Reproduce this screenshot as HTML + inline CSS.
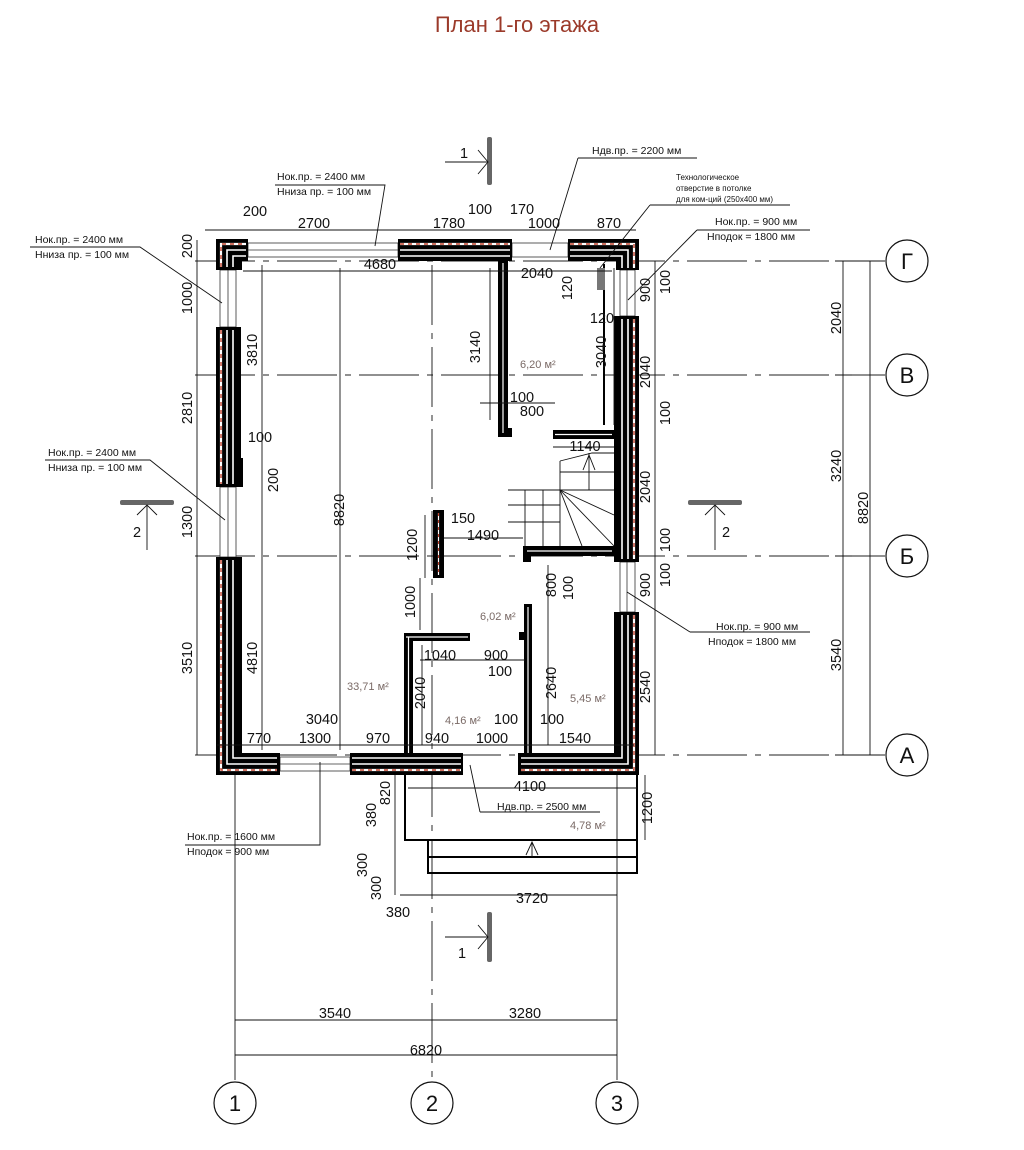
<!DOCTYPE html>
<html><head><meta charset="utf-8"><style>
html,body{margin:0;padding:0;background:#fff}
svg{display:block}
text{font-family:"Liberation Sans",sans-serif;fill:#111}
.d{font-size:14.5px}
.n{font-size:10.5px}
.a{font-size:11px;fill:#7a6a66}
.l{stroke:#111;stroke-width:0.9;fill:none}
.ax{stroke:#222;stroke-width:0.9;stroke-dasharray:60 8 6 8;fill:none}
.wo{fill:#000}
.wl{stroke:#fff;stroke-width:1.6;fill:none}
.hw{stroke:#fff;stroke-width:2.2;fill:none}
.rd{stroke:#c0402a;stroke-width:1.4;stroke-dasharray:4 4;fill:none}
.win{stroke:#333;stroke-width:0.8;fill:#fff}
</style></head><body>
<svg width="1024" height="1150" viewBox="0 0 1024 1150" xmlns="http://www.w3.org/2000/svg">
<text x="517" y="32" text-anchor="middle" style="font-size:22px;fill:#9b3a2a">План 1-го этажа</text>

<g class="ax">
<line x1="195" y1="261" x2="885" y2="261"/>
<line x1="195" y1="375" x2="885" y2="375"/>
<line x1="195" y1="556" x2="885" y2="556"/>
<line x1="195" y1="755" x2="885" y2="755"/>
</g>
<g class="l">
<line x1="235" y1="775" x2="235" y2="1080"/>
<line x1="432" y1="265" x2="432" y2="1080" stroke-dasharray="60 8 6 8"/>
<line x1="617" y1="775" x2="617" y2="1080"/>
<line x1="340" y1="268" x2="340" y2="750"/>
</g>

<g class="win">
<rect x="248" y="243" width="150" height="14"/><line x1="248" y1="250" x2="398" y2="250"/>
<rect x="512" y="243" width="56" height="14" fill="none"/>
<rect x="220" y="270" width="16" height="57"/><line x1="228" y1="270" x2="228" y2="327"/>
<rect x="220" y="487" width="16" height="70"/><line x1="228" y1="487" x2="228" y2="557"/>
<rect x="620" y="270" width="15" height="46"/><line x1="627" y1="270" x2="627" y2="316"/>
<rect x="620" y="562" width="15" height="50"/><line x1="627" y1="562" x2="627" y2="612"/>
<rect x="280" y="757" width="70" height="14"/><line x1="280" y1="764" x2="350" y2="764"/>
</g>

<path class="wo" d="M216 239H248V261H242V270H216Z"/>
<rect class="wo" x="398" y="239" width="114" height="22"/>
<path class="wo" d="M568 239H639V270H616V261H568Z"/>
<rect class="wo" x="216" y="327" width="25" height="160"/>
<rect class="wo" x="236" y="458" width="7" height="29"/>
<path class="wo" d="M216 557H242V753H280V775H216Z"/>
<rect class="wo" x="614" y="316" width="25" height="246"/>
<path class="wo" d="M614 612H639V775H518V753H614Z"/>
<rect class="wo" x="350" y="753" width="113" height="22"/>
<g class="wl">
<path d="M227 267V250H246M233 267V256H246"/>
<path d="M400 250H510M400 256H510"/>
<path d="M570 250H628V268M570 256H622V268"/>
<path d="M227 330V484M233 330V484"/>
<path d="M227 560V764H277M233 560V758H277"/>
<path d="M628 319V559M622 319V559"/>
<path d="M628 615V764H521M622 615V758H521"/>
<path d="M352 764H461M352 758H461"/>
</g>
<g class="hw">
<path d="M221 267V244H246"/><path d="M400 244H510"/><path d="M570 244H634V268"/>
<path d="M221 330V484"/><path d="M221 560V770H277"/><path d="M634 319V559"/>
<path d="M634 615V770H521"/><path d="M352 770H461"/>
</g>
<g class="rd">
<path d="M221 267V244H246"/><path d="M400 244H510"/><path d="M570 244H634V268"/>
<path d="M221 330V484"/><path d="M221 560V770H277"/><path d="M634 319V559"/>
<path d="M634 615V770H521"/><path d="M352 770H461"/>
</g>

<path class="wo" d="M498 261H508V428H512V437H498Z"/>
<rect class="wo" x="553" y="430" width="61" height="9"/>
<line x1="604" y1="264" x2="604" y2="425" stroke="#000" stroke-width="2"/>
<path class="wo" d="M523 546H614V556H531V562H523Z"/>
<rect class="wo" x="433" y="510" width="11" height="68"/>
<path class="wo" d="M404 633H470V641H413V755H404Z"/>
<rect class="wo" x="524" y="604" width="8" height="151"/>
<rect class="wo" x="519" y="632" width="6" height="8"/>
<g stroke="#fff" stroke-width="1.2" fill="none">
<path d="M503 263V433"/><path d="M555 434.5H612"/><path d="M527 551H612"/>
<path d="M438.5 513V575"/><path d="M406 637H468"/><path d="M408.5 637V753"/><path d="M528 607V753"/>
</g>
<g stroke="#c0402a" stroke-width="1" stroke-dasharray="3 4"><path d="M438.5 513V575"/></g>
<polygon points="597,268 605,268 605,290 597,290" fill="#777"/>

<g class="l">
<path d="M508 490H560V546"/>
<line x1="508" y1="505" x2="560" y2="505"/><line x1="508" y1="522" x2="560" y2="522"/>
<line x1="525" y1="490" x2="525" y2="546"/><line x1="543" y1="490" x2="543" y2="546"/>
<path d="M560 461L592 453H614"/><line x1="560" y1="461" x2="560" y2="490"/>
<line x1="560" y1="472" x2="614" y2="472"/><line x1="560" y1="490" x2="614" y2="490"/>
<line x1="560" y1="490" x2="614" y2="515"/><line x1="560" y1="490" x2="614" y2="546"/>
<line x1="560" y1="490" x2="582" y2="546"/><line x1="589" y1="453" x2="589" y2="490"/>
<path d="M583 470L589 455L595 470"/>
</g>

<g stroke="#000" stroke-width="2" fill="none">
<path d="M405 775V840H637V775"/>
<rect x="428" y="840" width="209" height="17"/>
<path d="M428 857V873H637V857"/>
</g>
<path class="l" d="M526 855L532 842L538 855M532 842V857"/>

<g class="l">
<line x1="205" y1="230" x2="636" y2="230"/>
<line x1="243" y1="271" x2="612" y2="271"/>
<line x1="197" y1="240" x2="197" y2="755"/>
<line x1="262" y1="265" x2="262" y2="750"/>
<line x1="490" y1="268" x2="490" y2="420"/>
<line x1="614" y1="268" x2="614" y2="425"/>
<line x1="655" y1="261" x2="655" y2="755"/>
<line x1="217" y1="745" x2="634" y2="745"/>
<line x1="420" y1="660" x2="525" y2="660"/>
<line x1="422" y1="645" x2="422" y2="745"/>
<line x1="548" y1="565" x2="548" y2="745"/>
<line x1="425" y1="515" x2="425" y2="578"/>
<line x1="444" y1="538" x2="523" y2="538"/>
<line x1="480" y1="403" x2="555" y2="403"/>
<line x1="553" y1="447" x2="614" y2="447"/>
<line x1="420" y1="578" x2="420" y2="630"/>
<line x1="408" y1="788" x2="637" y2="788"/>
<line x1="395" y1="775" x2="395" y2="895"/>
<line x1="400" y1="895" x2="617" y2="895"/>
<line x1="645" y1="775" x2="645" y2="840"/>
<line x1="843" y1="261" x2="843" y2="755"/>
<line x1="870" y1="261" x2="870" y2="755"/>
<line x1="835" y1="261" x2="880" y2="261"/><line x1="835" y1="375" x2="852" y2="375"/><line x1="835" y1="556" x2="852" y2="556"/><line x1="835" y1="755" x2="880" y2="755"/>
<line x1="235" y1="1020" x2="617" y2="1020"/>
<line x1="235" y1="1055" x2="617" y2="1055"/>
</g>

<g class="l" stroke-width="1.1">
<path d="M275 185H385L375 246"/>
<path d="M30 247H140L222 303"/>
<path d="M45 460H150L225 520"/>
<path d="M578 158H697M578 158L550 250"/>
<path d="M650 205H790M650 205L600 268"/>
<path d="M697 230H810M697 230L628 300"/>
<path d="M690 632H810M690 632L627 592"/>
<path d="M480 812H600M480 812L470 765"/>
<path d="M185 845H320L320 762"/>
</g>

<g>
<rect x="487" y="137" width="5" height="48" rx="2" fill="#666"/>
<path class="l" d="M445 162H488M478 150L488 162L478 174"/>
<text x="460" y="158" class="d">1</text>
<rect x="487" y="912" width="5" height="50" rx="2" fill="#666"/>
<path class="l" d="M445 937H488M478 925L488 937L478 949"/>
<text x="458" y="958" class="d">1</text>
<rect x="120" y="500" width="54" height="5" rx="2" fill="#666"/>
<path class="l" d="M147 505V550M137 515L147 505L157 515"/>
<text x="133" y="537" class="d">2</text>
<rect x="688" y="500" width="54" height="5" rx="2" fill="#666"/>
<path class="l" d="M715 505V550M705 515L715 505L725 515"/>
<text x="722" y="537" class="d">2</text>
</g>

<g stroke="#111" stroke-width="1.2" fill="#fff">
<circle cx="907" cy="261" r="21"/><circle cx="907" cy="375" r="21"/><circle cx="907" cy="556" r="21"/><circle cx="907" cy="755" r="21"/>
<circle cx="235" cy="1103" r="21"/><circle cx="432" cy="1103" r="21"/><circle cx="617" cy="1103" r="21"/>
</g>
<g style="font-size:22px" text-anchor="middle">
<text x="907" y="269">Г</text><text x="907" y="383">В</text><text x="907" y="564">Б</text><text x="907" y="763">А</text>
<text x="235" y="1111">1</text><text x="432" y="1111">2</text><text x="617" y="1111">3</text>
</g>

<g class="d" text-anchor="middle">
<text x="255" y="216">200</text><text x="314" y="228">2700</text><text x="449" y="228">1780</text>
<text x="480" y="214">100</text><text x="522" y="214">170</text><text x="544" y="228">1000</text><text x="609" y="228">870</text>
<text x="380" y="269">4680</text><text x="537" y="278">2040</text>
<text x="522" y="402">100</text><text x="532" y="416">800</text>
<text x="585" y="451">1140</text>
<text x="260" y="442">100</text>
<text x="463" y="523">150</text><text x="483" y="540">1490</text>
<text x="440" y="660">1040</text><text x="496" y="660">900</text><text x="500" y="676">100</text>
<text x="322" y="724">3040</text><text x="506" y="724">100</text><text x="552" y="724">100</text>
<text x="259" y="743">770</text><text x="315" y="743">1300</text><text x="378" y="743">970</text><text x="437" y="743">940</text><text x="492" y="743">1000</text><text x="575" y="743">1540</text>
<text x="530" y="791">4100</text>
<text x="398" y="917">380</text><text x="532" y="903">3720</text>
<text x="602" y="323">120</text>
<text x="335" y="1018">3540</text><text x="525" y="1018">3280</text><text x="426" y="1055">6820</text>
</g>

<g class="d" text-anchor="middle">
<text transform="translate(192,246) rotate(-90)">200</text>
<text transform="translate(192,298) rotate(-90)">1000</text>
<text transform="translate(192,408) rotate(-90)">2810</text>
<text transform="translate(192,522) rotate(-90)">1300</text>
<text transform="translate(192,658) rotate(-90)">3510</text>
<text transform="translate(257,350) rotate(-90)">3810</text>
<text transform="translate(278,480) rotate(-90)">200</text>
<text transform="translate(257,658) rotate(-90)">4810</text>
<text transform="translate(344,510) rotate(-90)">8820</text>
<text transform="translate(480,347) rotate(-90)">3140</text>
<text transform="translate(606,352) rotate(-90)">3040</text>
<text transform="translate(572,288) rotate(-90)">120</text>
<text transform="translate(650,290) rotate(-90)">900</text>
<text transform="translate(670,282) rotate(-90)">100</text>
<text transform="translate(650,372) rotate(-90)">2040</text>
<text transform="translate(670,413) rotate(-90)">100</text>
<text transform="translate(650,487) rotate(-90)">2040</text>
<text transform="translate(670,540) rotate(-90)">100</text>
<text transform="translate(670,575) rotate(-90)">100</text>
<text transform="translate(650,585) rotate(-90)">900</text>
<text transform="translate(650,687) rotate(-90)">2540</text>
<text transform="translate(417,545) rotate(-90)">1200</text>
<text transform="translate(415,602) rotate(-90)">1000</text>
<text transform="translate(425,693) rotate(-90)">2040</text>
<text transform="translate(556,585) rotate(-90)">800</text>
<text transform="translate(573,588) rotate(-90)">100</text>
<text transform="translate(556,683) rotate(-90)">2640</text>
<text transform="translate(390,793) rotate(-90)">820</text>
<text transform="translate(376,815) rotate(-90)">380</text>
<text transform="translate(367,865) rotate(-90)">300</text>
<text transform="translate(381,888) rotate(-90)">300</text>
<text transform="translate(652,808) rotate(-90)">1200</text>
<text transform="translate(841,318) rotate(-90)">2040</text>
<text transform="translate(841,466) rotate(-90)">3240</text>
<text transform="translate(841,655) rotate(-90)">3540</text>
<text transform="translate(868,508) rotate(-90)">8820</text>
</g>

<text x="520" y="368" class="a">6,20 м²</text>
<text x="480" y="620" class="a">6,02 м²</text>
<text x="347" y="690" class="a">33,71 м²</text>
<text x="445" y="724" class="a">4,16 м²</text>
<text x="570" y="702" class="a">5,45 м²</text>
<text x="570" y="829" class="a">4,78 м²</text>

<g class="n">
<text x="277" y="180">Нок.пр. = 2400 мм</text><text x="277" y="195">Hниза пр. = 100 мм</text>
<text x="35" y="243">Нок.пр. = 2400 мм</text><text x="35" y="258">Hниза пр. = 100 мм</text>
<text x="48" y="456">Нок.пр. = 2400 мм</text><text x="48" y="471">Hниза пр. = 100 мм</text>
<text x="592" y="154">Hдв.пр. = 2200 мм</text>
<text x="676" y="180" style="font-size:8px">Технологическое</text>
<text x="676" y="191" style="font-size:8px">отверстие в потолке</text>
<text x="676" y="202" style="font-size:8px">для ком-ций (250х400 мм)</text>
<text x="715" y="225">Нок.пр. = 900 мм</text><text x="707" y="240">Hподок = 1800 мм</text>
<text x="716" y="630">Нок.пр. = 900 мм</text><text x="708" y="645">Hподок = 1800 мм</text>
<text x="497" y="810">Hдв.пр. = 2500 мм</text>
<text x="187" y="840">Нок.пр. = 1600 мм</text><text x="187" y="855">Hподок = 900 мм</text>
</g>
</svg>
</body></html>
